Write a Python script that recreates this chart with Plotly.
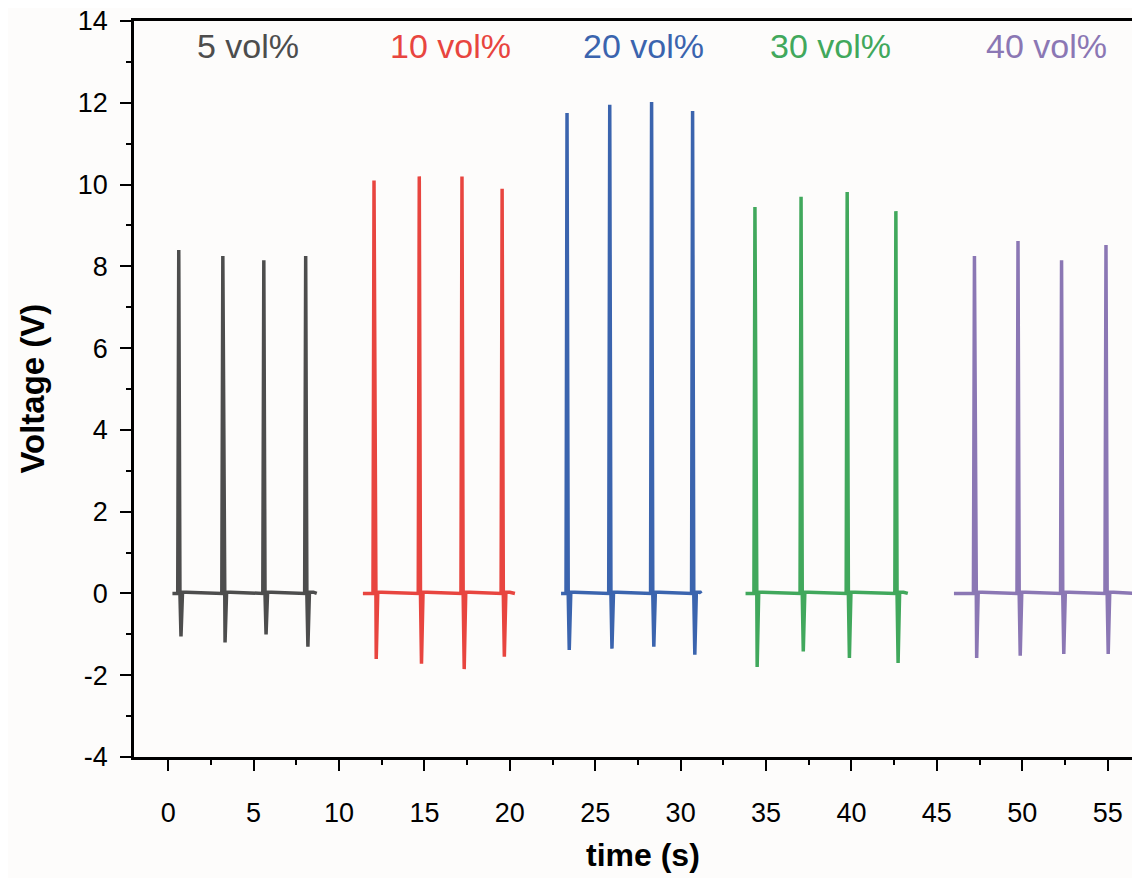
import plotly.graph_objects as go

# ---- data ----
labels = ["5 vol%", "10 vol%", "20 vol%", "30 vol%", "40 vol%"]
colors = ["#4d4d4d", "#e8453f", "#3b64ae", "#41a85c", "#8b77b4"]
start_t = [0.25, 11.4, 23.0, 33.8, 46.0]
end_t = [8.7, 20.3, 31.2, 43.3, 56.6]
peak_t = [
    [0.62, 3.2, 5.6, 8.05],
    [12.05, 14.7, 17.2, 19.55],
    [23.35, 25.85, 28.3, 30.7],
    [34.35, 37.05, 39.75, 42.6],
    [47.2, 49.75, 52.3, 54.9],
]
peak_v = [
    [8.4, 8.25, 8.15, 8.25],
    [10.1, 10.2, 10.2, 9.9],
    [11.75, 11.95, 12.02, 11.8],
    [9.45, 9.7, 9.82, 9.35],
    [8.25, 8.62, 8.15, 8.52],
]
trough_v = [
    [-1.05, -1.2, -1.0, -1.3],
    [-1.6, -1.72, -1.85, -1.55],
    [-1.38, -1.35, -1.3, -1.5],
    [-1.8, -1.42, -1.58, -1.7],
    [-1.58, -1.52, -1.48, -1.48],
]
label_x = [4.7, 16.5, 27.8, 38.8, 51.4]
x_ticks = [0, 5, 10, 15, 20, 25, 30, 35, 40, 45, 50, 55]
y_ticks = [-4, -2, 0, 2, 4, 6, 8, 10, 12, 14]
y_ticktext = ["-4", "-2", "0", "2", "4", "6", "8", "10", "12", "14"]

FONT = "Arial, Liberation Sans"
fig = go.Figure()
for i in range(len(labels)):
    xs = [start_t[i]]
    ys = [0.0]
    for tp, pv, tv in zip(peak_t[i], peak_v[i], trough_v[i]):
        xs += [tp - 0.06, tp, tp + 0.07, tp + 0.13, tp + 0.22, tp + 0.45]
        ys += [0.0, pv, -0.02, tv, 0.03, 0.03]
    xs.append(end_t[i])
    ys.append(0.0)
    fig.add_trace(go.Scatter(x=xs, y=ys, mode="lines",
                             line=dict(color=colors[i], width=3.5),
                             showlegend=False, hoverinfo="skip"))
    fig.add_annotation(x=label_x[i], y=13.4, xref="x", yref="y",
                       text=labels[i], showarrow=False,
                       font=dict(size=34, color=colors[i], family=FONT))

fig.add_annotation(x=0.502, xref="paper", y=-0.133, yref="paper",
                   xanchor="center", yanchor="middle",
                   text="<b>time (s)</b>", showarrow=False,
                   font=dict(size=32, color="black", family=FONT))
fig.add_annotation(x=-0.101, xref="paper", y=0.5, yref="paper",
                   xanchor="center", yanchor="middle",
                   text="<b>Voltage (V)</b>", showarrow=False, textangle=-90,
                   font=dict(size=33, color="black", family=FONT))

axis_font = dict(size=27, color="black", family=FONT)
fig.update_layout(
    width=1140, height=878,
    margin=dict(l=126, r=0, t=13, b=129),
    paper_bgcolor="#fdfcfb", plot_bgcolor="#fdfcfb",
    xaxis=dict(range=[-2, 57.36], tickvals=x_ticks, ticks="outside", ticklen=11,
               tickwidth=2, tickcolor="black", showline=True, linecolor="black",
               linewidth=2.5, mirror=True, showgrid=False, zeroline=False,
               tickfont=axis_font, ticklabelstandoff=19,
               ticklabeloverflow="allow", automargin=False,
               minor=dict(dtick=2.5, tick0=0, ticks="outside", ticklen=5,
                          tickwidth=2, tickcolor="black")),
    yaxis=dict(range=[-4, 14], tickvals=y_ticks, ticktext=y_ticktext,
               ticks="outside", ticklen=11,
               tickwidth=2, tickcolor="black", showline=True, linecolor="black",
               linewidth=2.5, showgrid=False, zeroline=False, tickfont=axis_font,
               ticklabelstandoff=7, ticklabeloverflow="allow", automargin=False,
               minor=dict(dtick=1, tick0=0, ticks="outside", ticklen=5,
                          tickwidth=2, tickcolor="black")),
)
fig.write_html("out.html")
